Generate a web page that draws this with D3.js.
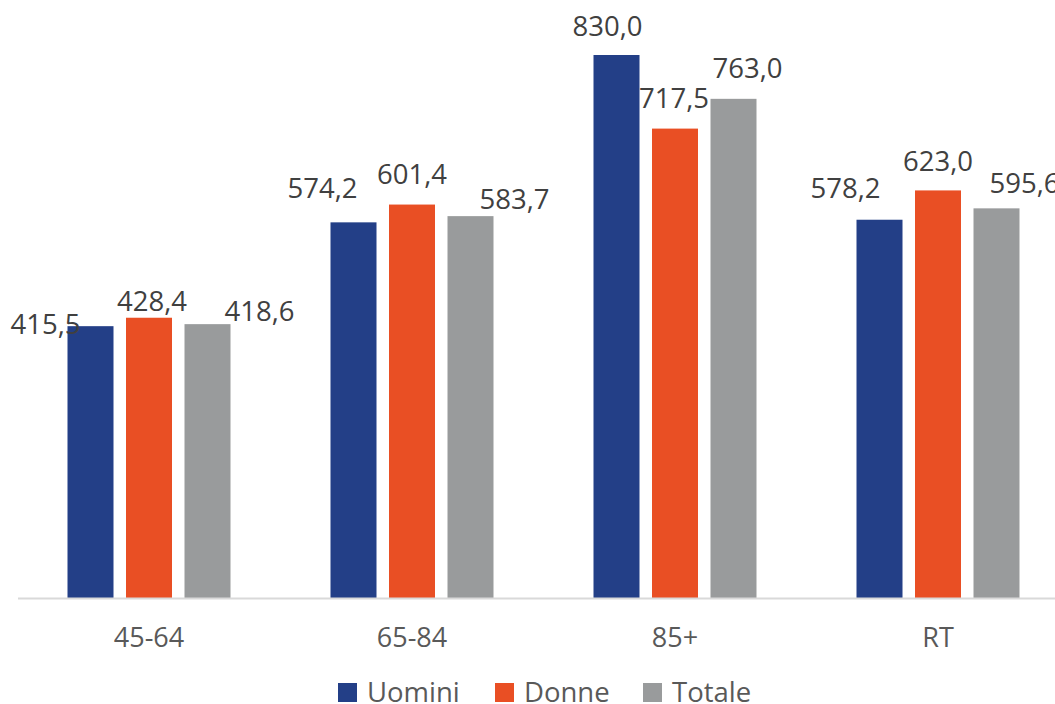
<!DOCTYPE html>
<html><head><meta charset="utf-8">
<script src="https://cdn.jsdelivr.net/npm/d3@7"></script>
<style>body{margin:0;background:#fff}svg{display:block}</style>
</head><body>
<svg id="c" width="1055" height="704"></svg>
<script>
const categories = ["45-64","65-84","85+","RT"];
const seriesNames = ["Uomini","Donne","Totale"];
const uomini = [415.5, 574.2, 830.0, 578.2];
const donne  = [428.4, 601.4, 717.5, 623.0];
const totale = [418.6, 583.7, 763.0, 595.6];
const colors = ["#233F87","#E94F24","#999B9C"];
// label offsets (dx of text centre from bar centre, dy of baseline from bar top), as in the source layout
const labelDx = [[-45,3,52],[-31,0,44],[-9,-1,14],[-34,0,28]];
const labelDy = [[8,-7,-3],[-24,-21,-7],[-19,-21,-21],[-22,-19,-15]];

const values = [uomini, donne, totale];
const svg = d3.select("#c");
const x0 = d3.scaleBand().domain(categories).range([17.5, 1069.5]).paddingInner(0).paddingOuter(0);
const y = d3.scaleLinear().domain([0, 830]).range([598, 55]);
const barW = 46, step = 58.5;
const FONT = "'Open Sans'";

const fmt = v => d3.format(".1f")(v).replace(".", ",");

categories.forEach((c, i) => {
  const cx = x0(c) + x0.bandwidth()/2;
  seriesNames.forEach((s, j) => {
    const v = values[j][i];
    const bx = cx + (j-1)*step;
    svg.append("rect").attr("x", bx - barW/2).attr("y", y(v))
      .attr("width", barW).attr("height", y(0) - y(v)).attr("fill", colors[j]);
  });
});
categories.forEach((c, i) => {
  const cx = x0(c) + x0.bandwidth()/2;
  seriesNames.forEach((s, j) => {
    const v = values[j][i];
    const bx = cx + (j-1)*step;
    svg.append("text").attr("x", bx + labelDx[i][j]).attr("y", y(v) + labelDy[i][j])
      .attr("text-anchor","middle")
      .style("font-family",FONT).style("font-size","27.5px")
      .attr("fill","#404040").text(fmt(v));
  });
});

// axis
const xAxis = d3.axisBottom(x0).tickSize(0).tickPadding(0);
const g = svg.append("g").attr("transform","translate(0,598)").call(xAxis);
g.select(".domain").attr("stroke","#D9D9D9").attr("stroke-width",2);
g.selectAll("text").attr("dy", null).attr("y", 49)
  .style("font-family",FONT).style("font-size","27px").attr("fill","#595959");

// legend
const legX = [338, 495, 643];
seriesNames.forEach((s, j) => {
  const lg = svg.append("g").attr("transform", `translate(${legX[j]},683)`);
  lg.append("rect").attr("width",19).attr("height",19).attr("fill",colors[j]);
  lg.append("text").attr("x",29).attr("y",19)
    .style("font-family",FONT).style("font-size","27.5px")
    .attr("fill","#595959").text(s);
});
</script>
</body></html>
